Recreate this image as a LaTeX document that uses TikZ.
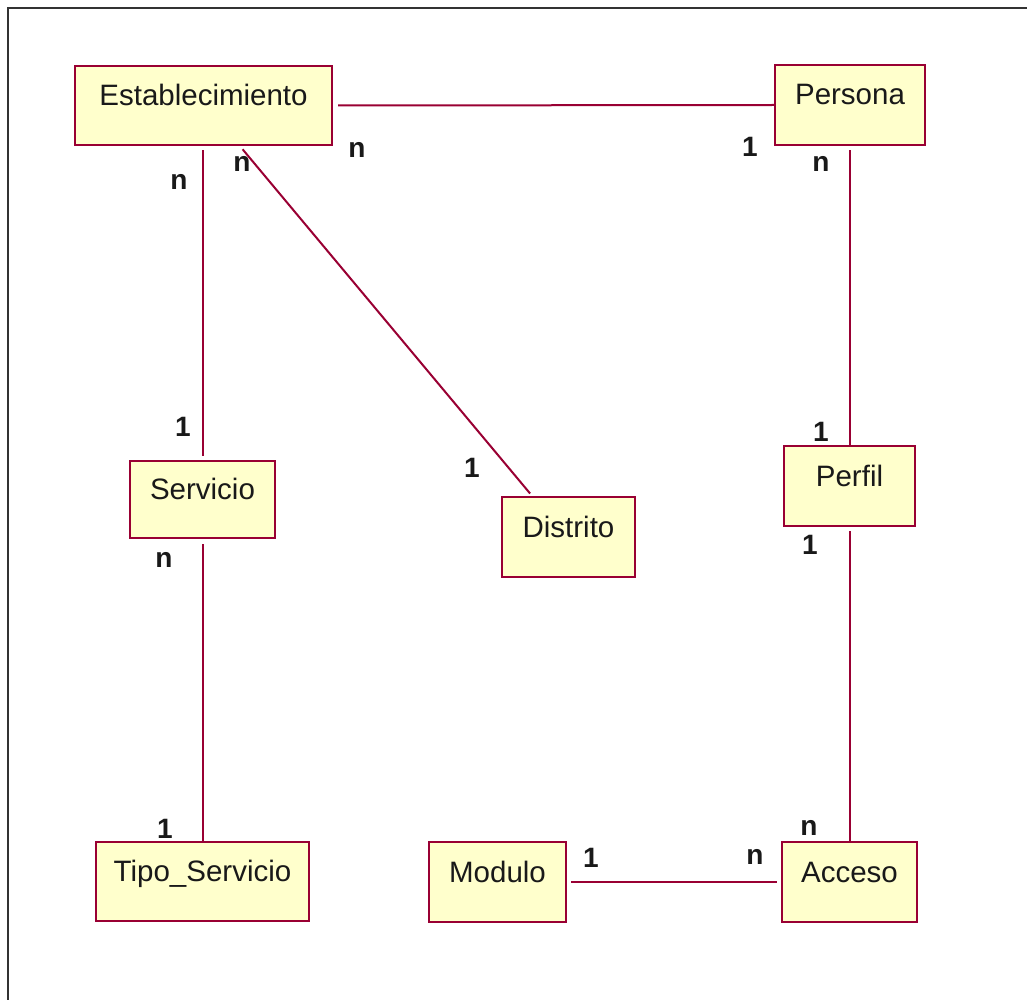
\documentclass[tikz,border=0pt]{standalone}
\usepackage{fontspec}
\setmainfont{Liberation Sans}
\definecolor{edge}{HTML}{990033}
\definecolor{classfill}{HTML}{FFFFCC}
\tikzset{
  entity/.style={draw=edge, fill=classfill, line width=2.4pt, inner sep=0pt,
    text=black!90, font=\fontsize{29.5}{34}\selectfont},
  rel/.style={draw=edge, line width=2pt},
  mult/.style={font=\fontsize{28}{32}\selectfont\bfseries, inner sep=0pt, text=black!90}
}
\begin{document}
\begin{tikzpicture}[x=1pt,y=-1pt]
\useasboundingbox (0,0) rectangle (1027,1000);
% window frame
\draw[line width=2pt, black!80] (1027,8.5) -- (8,8.5) -- (8,1000);

% entities (text baseline sits on the box's middle)
\node[entity, minimum width=257pt, text height=39.5pt, text depth=39.5pt] (estab) at (203.5,105.5) {Establecimiento};
\node[entity, minimum width=150pt, text height=40pt, text depth=40pt] (persona) at (850,105) {Persona};
\node[entity, minimum width=145pt, text height=38.5pt, text depth=38.5pt] (servicio) at (202.5,499.5) {Servicio};
\node[entity, minimum width=133pt, text height=40pt, text depth=40pt] (distrito) at (568.5,537) {Distrito};
\node[entity, minimum width=131pt, text height=40pt, text depth=40pt] (perfil) at (849.5,486) {Perfil};
\node[entity, minimum width=213pt, text height=39.5pt, text depth=39.5pt] (tipo) at (202.5,881.5) {Tipo\_Servicio};
\node[entity, minimum width=137pt, text height=40pt, text depth=40pt] (modulo) at (497.5,882) {Modulo};
\node[entity, minimum width=135pt, text height=40pt, text depth=40pt] (acceso) at (849.5,882) {Acceso};

% relationships
\draw[rel, shorten <=5pt] (estab.east) -- (persona.west);
\draw[rel, shorten <=4pt, shorten >=4pt] (servicio.north |- estab.south) -- (servicio.north);
\draw[rel, shorten <=4pt, shorten >=3pt] ([xshift=36.5pt]estab.south) -- ([xshift=-36.5pt]distrito.north);
\draw[rel, shorten <=4pt] (perfil.north |- persona.south) -- (perfil.north);
\draw[rel, shorten <=5pt] (servicio.south) -- (tipo.north);
\draw[rel, shorten <=4pt] (perfil.south) -- (acceso.north);
\draw[rel, shorten <=4pt, shorten >=4pt] (modulo.east) -- (acceso.west);

% multiplicities
\node[mult] (m1) at (357,150) {n};
\node[mult] (m2) at (750,147) {1};
\node[mult] (m3) at (179,182) {n};
\node[mult] (m4) at (183,427) {1};
\node[mult] (m5) at (242,164) {n};
\node[mult] (m6) at (472,468) {1};
\node[mult] (m7) at (821,164) {n};
\node[mult] (m8) at (821,432) {1};
\node[mult] (m9) at (164,560) {n};
\node[mult] (m10) at (165,829) {1};
\node[mult] (m11) at (810,545) {1};
\node[mult] (m12) at (809,828) {n};
\node[mult] (m13) at (591,858) {1};
\node[mult] (m14) at (755,857) {n};
\end{tikzpicture}
\end{document}
